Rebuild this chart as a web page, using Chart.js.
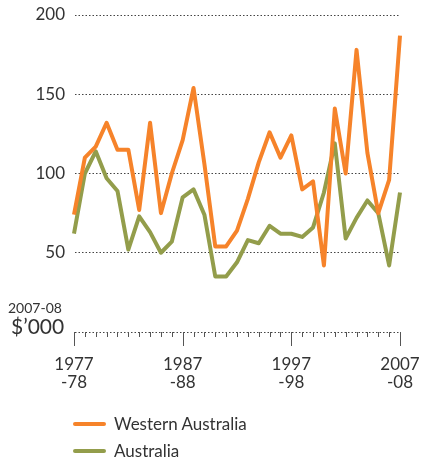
<!DOCTYPE html>
<html>
<head>
<meta charset="utf-8">
<script src="https://cdn.jsdelivr.net/npm/chart.js@4"></script>
<style>
  html, body { margin: 0; padding: 0; background: #fff; }
  #wrap { position: relative; width: 423px; height: 461px; font-family: Lato, "Open Sans", sans-serif; color: #333; }
  #unit { position: absolute; left: 8px; top: 301px; line-height: 1; }
  #unit .a { font-size: 14px; display: block; }
  #unit .b { font-size: 21px; display: block; margin-top: 0px; margin-left: 3px; }
  #legend { position: absolute; left: 73px; top: 410px; font-size: 17px; }
  #legend div { height: 27px; display: flex; align-items: center; }
  #legend span.sw { display: inline-block; width: 33px; height: 4px; border-radius: 2px; margin-right: 8px; }
</style>
</head>
<body>
<div id="wrap">
  <canvas id="myLineChart" width="423" height="461"></canvas>
  <div id="unit"><span class="a">2007-08</span><span class="b">$’000</span></div>
  <div id="legend">
    <div><span class="sw" style="background:#F6832A"></span>Western Australia</div>
    <div><span class="sw" style="background:#939D4B"></span>Australia</div>
  </div>
</div>
<script>
// |------------------------------- data -------------------------------|

var years = [];
for (var y = 1977; y <= 2007; y++) years.push(y);

var westernAustralia = [74, 110, 117, 132, 115, 115, 77, 132, 75, 100, 121, 154, 106, 54, 54, 64,
                        84, 107, 126, 110, 124, 90, 95, 42, 141, 100, 178, 113, 75, 96, 187];
var australia = [62, 100, 114, 97, 89, 52, 73, 63, 50, 57, 85, 90, 74, 35, 35, 44,
                 58, 56, 67, 62, 62, 60, 66, 88, 119, 59, 72, 83, 75, 42, 88];

var yTicks = [50, 100, 150, 200];

// |------------------------------- x axis ticks plugin -------------------------------|

var axisTicks = {
  id: 'axisTicks',
  afterDraw: function (chart) {
    var ctx = chart.ctx;
    var x = chart.scales.x;
    var y0 = chart.scales.y.getPixelForValue(0);
    ctx.save();
    ctx.strokeStyle = '#555';
    ctx.lineWidth = 1;
    for (var i = 0; i < years.length; i++) {
      var px = Math.round(x.getPixelForValue(i)) + 0.5;
      var len = (i % 10 === 0) ? 14 : 5;
      ctx.beginPath();
      ctx.moveTo(px, y0);
      ctx.lineTo(px, y0 + len);
      ctx.stroke();
    }
    ctx.restore();
  }
};

// |------------------------------- Chart.js - Line Chart -------------------------------|

var ctx = document.getElementById('myLineChart').getContext('2d');
var myLineChart = new Chart(ctx, {
  type: 'line',
  data: {
    labels: years,
    datasets: [{
      label: 'Western Australia',
      data: westernAustralia,
      borderColor: '#F6832A',
      borderWidth: 4,
      pointRadius: 0,
      tension: 0,
      borderJoinStyle: 'round'
    }, {
      label: 'Australia',
      data: australia,
      borderColor: '#939D4B',
      borderWidth: 4,
      pointRadius: 0,
      tension: 0,
      borderJoinStyle: 'round'
    }]
  },
  options: {
    responsive: false,
    animation: false,
    layout: { padding: { top: 15, right: 23, left: 0, bottom: 0 } },
    scales: {
      x: {
        grid: { display: false },
        border: { display: false },
        afterFit: function (scale) {
          scale.height = 129;
          scale.paddingLeft = 0;
          scale.paddingRight = 0;
        },
        ticks: {
          autoSkip: false,
          maxRotation: 0,
          padding: 16,
          color: '#333',
          font: { family: 'Lato', size: 17, lineHeight: 1.05 },
          callback: function (val, i) {
            var yr = years[i];
            if (i % 10 !== 0) return '';
            return [String(yr), '-' + String(yr + 1).slice(2)];
          }
        }
      },
      y: {
        min: 0,
        max: 200,
        afterFit: function (scale) {
          scale.width = 74;
          scale.paddingTop = 0;
          scale.paddingBottom = 0;
        },
        afterBuildTicks: function (scale) {
          scale.ticks = [0].concat(yTicks).map(function (v) { return { value: v }; });
        },
        grid: {
          color: '#444',
          lineWidth: 1,
          drawTicks: false
        },
        border: { display: true, color: 'transparent', dash: [1.5, 2] },
        ticks: {
          padding: 9,
          color: '#333',
          font: { family: 'Lato', size: 17 },
          callback: function (v) { return v === 0 ? '' : v; }
        }
      }
    },
    plugins: {
      legend: { display: false },
      tooltip: { enabled: false }
    }
  },
  plugins: [axisTicks]
});
</script>
</body>
</html>
